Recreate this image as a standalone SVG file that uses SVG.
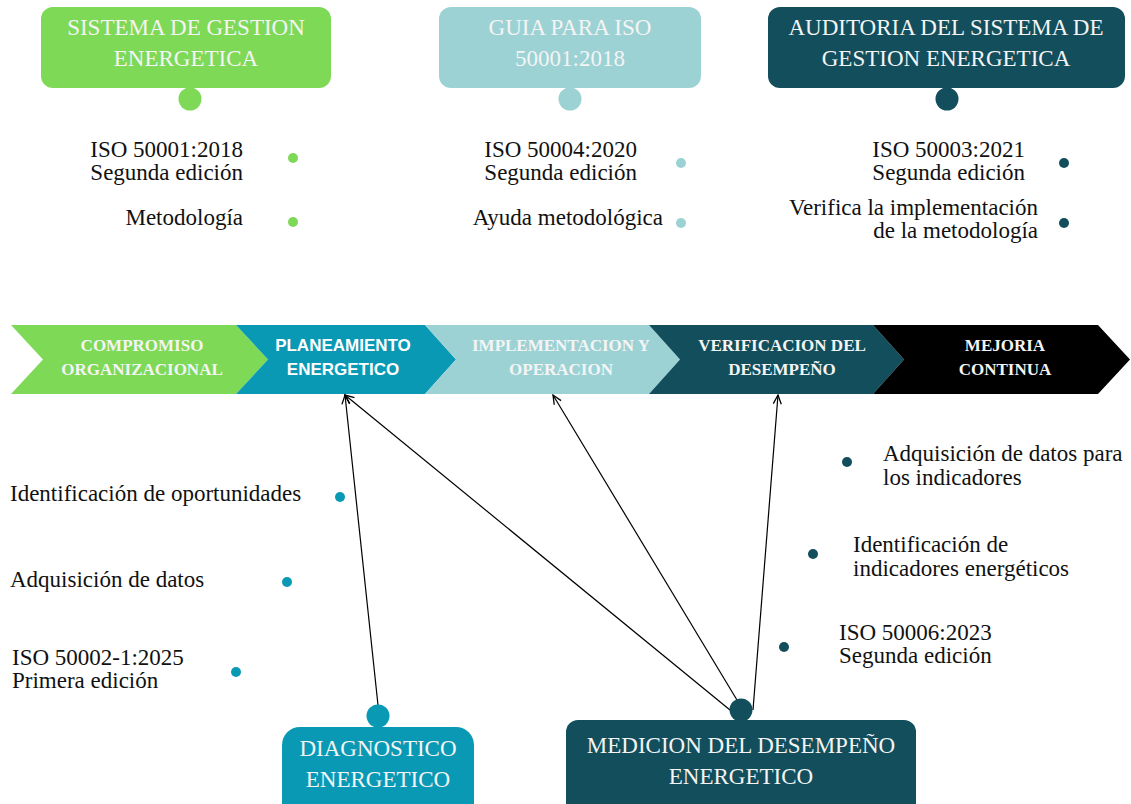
<svg xmlns="http://www.w3.org/2000/svg" width="1131" height="804" viewBox="0 0 1131 804">
  <style>
    .title { font-family: "Liberation Serif", "Times New Roman", serif; font-size: 23px; fill: #f4f4f4; text-anchor: middle; }
    .body { font-family: "Liberation Serif", "Times New Roman", serif; font-size: 23px; fill: #111; }
    .end { text-anchor: end; }
    .step { font-family: "Liberation Serif", "Times New Roman", serif; font-size: 17px; font-weight: bold; fill: #f4f4f4; text-anchor: middle; }
    .step-sans { font-family: "Liberation Sans", Arial, sans-serif; font-size: 17px; font-weight: bold; fill: #ffffff; text-anchor: middle; }
    .green { fill: #7ed957; }
    .light { fill: #9cd2d4; }
    .blue { fill: #0a99b5; }
    .dark { fill: #124e5c; }
    .conn { stroke: #000; stroke-width: 1.2; fill: none; }
  </style>
  <defs>
    <marker id="open-arrow" markerUnits="userSpaceOnUse" markerWidth="12" markerHeight="12" refX="10" refY="5" orient="auto">
      <path d="M1,1 L10,5 L1,9" fill="none" stroke="#000" stroke-width="1.3"/>
    </marker>
  </defs>

  <rect width="1131" height="804" fill="#ffffff"/>

  <!-- Top headers -->
  <g id="sistema">
    <rect class="green" x="41" y="7" width="290" height="81" rx="12"/>
    <circle class="green" cx="190" cy="99" r="11.5"/>
    <text class="title" x="186" y="35">SISTEMA DE GESTION</text>
    <text class="title" x="186" y="66">ENERGETICA</text>
  </g>
  <g id="sistema-items">
    <text class="body end" x="243" y="157">ISO 50001:2018</text>
    <text class="body end" x="243" y="180">Segunda edición</text>
    <circle class="green" cx="293" cy="158" r="5"/>
    <text class="body end" x="243" y="225">Metodología</text>
    <circle class="green" cx="293" cy="222" r="5"/>
  </g>

  <g id="guia">
    <rect class="light" x="439" y="7" width="262" height="81" rx="12"/>
    <circle class="light" cx="570" cy="99" r="11.5"/>
    <text class="title" x="570" y="35">GUIA PARA ISO</text>
    <text class="title" x="570" y="66">50001:2018</text>
  </g>
  <g id="guia-items">
    <text class="body end" x="637" y="157">ISO 50004:2020</text>
    <text class="body end" x="637" y="180">Segunda edición</text>
    <circle class="light" cx="681" cy="163" r="5"/>
    <text class="body end" x="663" y="225">Ayuda metodológica</text>
    <circle class="light" cx="681" cy="223" r="5"/>
  </g>

  <g id="auditoria">
    <rect class="dark" x="768" y="7" width="357" height="81" rx="12"/>
    <circle class="dark" cx="947" cy="99" r="11.5"/>
    <text class="title" x="946" y="35">AUDITORIA DEL SISTEMA DE</text>
    <text class="title" x="946" y="66">GESTION ENERGETICA</text>
  </g>
  <g id="auditoria-items">
    <text class="body end" x="1025" y="157">ISO 50003:2021</text>
    <text class="body end" x="1025" y="180">Segunda edición</text>
    <circle class="dark" cx="1064" cy="163" r="5"/>
    <text class="body end" x="1038" y="215">Verifica la implementación</text>
    <text class="body end" x="1038" y="238">de la metodología</text>
    <circle class="dark" cx="1064" cy="223" r="5"/>
  </g>

  <!-- Process band -->
  <g id="compromiso">
    <polygon class="green" points="11,325 236,325 268,359.5 236,394 11,394 43,359.5"/>
    <text class="step" x="142" y="351">COMPROMISO</text>
    <text class="step" x="142" y="375">ORGANIZACIONAL</text>
  </g>
  <g id="planeamiento">
    <polygon class="blue" points="236,325 425,325 456,359.5 425,394 236,394 268,359.5"/>
    <text class="step-sans" x="343" y="351">PLANEAMIENTO</text>
    <text class="step-sans" x="343" y="375">ENERGETICO</text>
  </g>
  <g id="implementacion">
    <polygon class="light" points="425,325 649,325 680,359.5 649,394 425,394 456,359.5"/>
    <text class="step" x="561" y="351">IMPLEMENTACION Y</text>
    <text class="step" x="561" y="375">OPERACION</text>
  </g>
  <g id="verificacion">
    <polygon class="dark" points="649,325 873,325 904,359.5 873,394 649,394 680,359.5"/>
    <text class="step" x="782" y="351">VERIFICACION DEL</text>
    <text class="step" x="782" y="375">DESEMPEÑO</text>
  </g>
  <g id="mejoria">
    <polygon fill="#000" points="873,325 1098,325 1130,359.5 1098,394 873,394 904,359.5"/>
    <text class="step" x="1005" y="351">MEJORIA</text>
    <text class="step" x="1005" y="375">CONTINUA</text>
  </g>

  <!-- Lower-left items -->
  <g id="diagnostico-items">
    <text class="body" x="10" y="501">Identificación de oportunidades</text>
    <circle class="blue" cx="340" cy="497" r="5"/>
    <text class="body" x="10" y="587">Adquisición de datos</text>
    <circle class="blue" cx="287" cy="582" r="5"/>
    <text class="body" x="12" y="665">ISO 50002-1:2025</text>
    <text class="body" x="12" y="688">Primera edición</text>
    <circle class="blue" cx="236" cy="672" r="5"/>
  </g>

  <!-- Lower-right items -->
  <g id="medicion-items">
    <circle class="dark" cx="847" cy="462" r="5"/>
    <text class="body" x="883" y="461">Adquisición de datos para</text>
    <text class="body" x="883" y="485">los indicadores</text>
    <circle class="dark" cx="813" cy="554" r="5"/>
    <text class="body" x="853" y="552">Identificación de</text>
    <text class="body" x="853" y="576">indicadores energéticos</text>
    <circle class="dark" cx="784" cy="647" r="5"/>
    <text class="body" x="839" y="640">ISO 50006:2023</text>
    <text class="body" x="839" y="663">Segunda edición</text>
  </g>

  <!-- Connectors -->
  <g id="connectors">
    <line class="conn" x1="378" y1="705" x2="345" y2="395" marker-end="url(#open-arrow)"/>
    <line class="conn" x1="730" y1="710" x2="345" y2="395" marker-end="url(#open-arrow)"/>
    <line class="conn" x1="737" y1="700" x2="553" y2="395" marker-end="url(#open-arrow)"/>
    <line class="conn" x1="753" y1="710" x2="778" y2="395" marker-end="url(#open-arrow)"/>
  </g>

  <!-- Bottom nodes -->
  <g id="diagnostico">
    <circle class="blue" cx="378" cy="716" r="11.5"/>
    <rect class="blue" x="282" y="727" width="192" height="95" rx="18"/>
    <text class="title" x="378" y="756">DIAGNOSTICO</text>
    <text class="title" x="378" y="787">ENERGETICO</text>
  </g>
  <g id="medicion">
    <circle class="dark" cx="741" cy="710" r="11.5"/>
    <rect class="dark" x="566" y="720" width="350" height="100" rx="12"/>
    <text class="title" x="741" y="753">MEDICION DEL DESEMPEÑO</text>
    <text class="title" x="741" y="784">ENERGETICO</text>
  </g>
</svg>
